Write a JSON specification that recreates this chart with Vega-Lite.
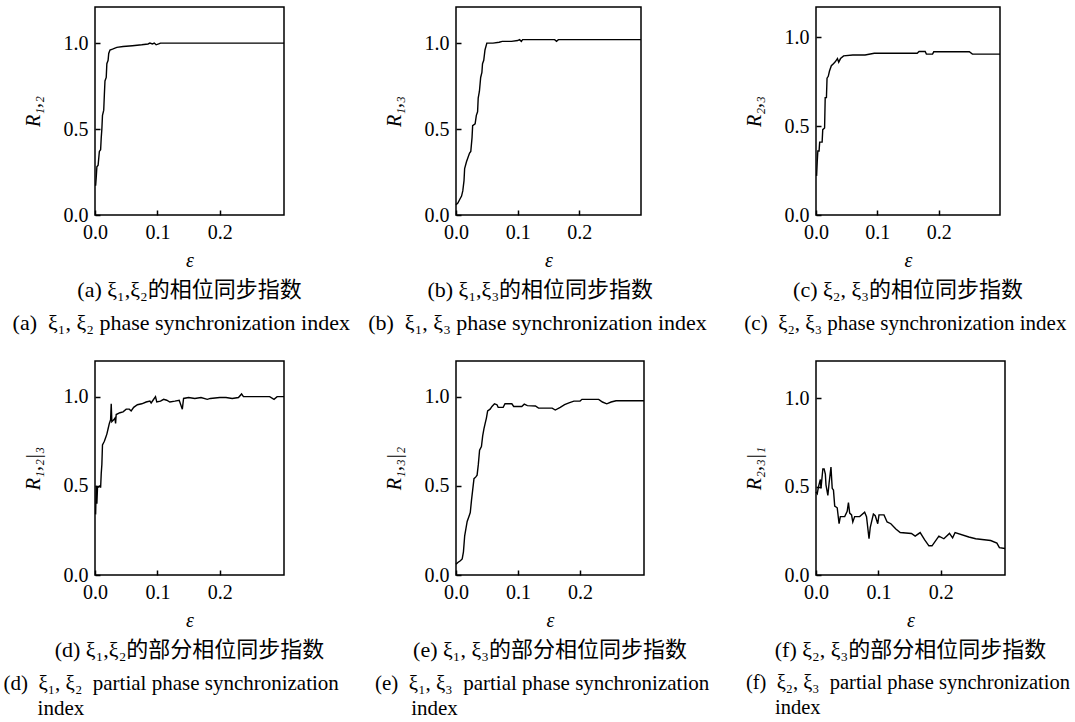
{
  "$schema": "https://vega.github.io/schema/vega-lite/v6.json",
  "background": "white",
  "padding": {"left": 2, "top": 6, "right": 0, "bottom": 5},
  "config": {
    "font": "Liberation Serif, Noto Sans CJK SC, serif",
    "view": {"stroke": "black", "strokeWidth": 1.5},
    "axis": {
      "domain": false, "grid": false, "ticks": true, "tickSize": -5, "tickColor": "black", "tickWidth": 1.5,
      "labelColor": "black", "labelFontSize": 20, "labelPadding": 12, "labelFlush": false, "labelOverlap": false,
      "titleColor": "black", "titleFontSize": 20, "titleFontStyle": "italic", "titleFontWeight": "normal"
    },
    "axisX": {"titlePadding": 8},
    "axisY": {"titlePadding": 20},
    "title": {
      "orient": "bottom", "anchor": "middle", "fontSize": 22, "fontWeight": "normal", "color": "black",
      "subtitleFontSize": 22, "subtitleColor": "black", "subtitlePadding": 11, "subtitleLineHeight": 25, "offset": 10
    },
    "line": {"color": "black", "strokeWidth": 1.4}
  },
  "datasets": {
    "curves": [
      {"p": "a", "e": 0.001, "r": 0.17}, {"p": "a", "e": 0.002, "r": 0.22}, {"p": "a", "e": 0.003, "r": 0.28},
      {"p": "a", "e": 0.005, "r": 0.29}, {"p": "a", "e": 0.006, "r": 0.33}, {"p": "a", "e": 0.007, "r": 0.37},
      {"p": "a", "e": 0.009, "r": 0.38}, {"p": "a", "e": 0.010, "r": 0.45}, {"p": "a", "e": 0.011, "r": 0.50},
      {"p": "a", "e": 0.012, "r": 0.58}, {"p": "a", "e": 0.014, "r": 0.61}, {"p": "a", "e": 0.015, "r": 0.70},
      {"p": "a", "e": 0.016, "r": 0.78}, {"p": "a", "e": 0.018, "r": 0.80}, {"p": "a", "e": 0.019, "r": 0.88},
      {"p": "a", "e": 0.021, "r": 0.90}, {"p": "a", "e": 0.022, "r": 0.94}, {"p": "a", "e": 0.024, "r": 0.96},
      {"p": "a", "e": 0.028, "r": 0.965}, {"p": "a", "e": 0.035, "r": 0.975}, {"p": "a", "e": 0.045, "r": 0.98},
      {"p": "a", "e": 0.060, "r": 0.985}, {"p": "a", "e": 0.075, "r": 0.99}, {"p": "a", "e": 0.085, "r": 0.995},
      {"p": "a", "e": 0.088, "r": 1.0}, {"p": "a", "e": 0.092, "r": 0.995}, {"p": "a", "e": 0.095, "r": 1.0},
      {"p": "a", "e": 0.098, "r": 0.99}, {"p": "a", "e": 0.102, "r": 0.995}, {"p": "a", "e": 0.105, "r": 1.0},
      {"p": "a", "e": 0.150, "r": 1.0}, {"p": "a", "e": 0.303, "r": 1.0},

      {"p": "b", "e": 0.000, "r": 0.06}, {"p": "b", "e": 0.003, "r": 0.07}, {"p": "b", "e": 0.006, "r": 0.09},
      {"p": "b", "e": 0.009, "r": 0.11}, {"p": "b", "e": 0.011, "r": 0.14}, {"p": "b", "e": 0.013, "r": 0.20},
      {"p": "b", "e": 0.014, "r": 0.27}, {"p": "b", "e": 0.017, "r": 0.31}, {"p": "b", "e": 0.019, "r": 0.33},
      {"p": "b", "e": 0.022, "r": 0.36}, {"p": "b", "e": 0.024, "r": 0.37}, {"p": "b", "e": 0.026, "r": 0.45},
      {"p": "b", "e": 0.027, "r": 0.52}, {"p": "b", "e": 0.031, "r": 0.53}, {"p": "b", "e": 0.033, "r": 0.58},
      {"p": "b", "e": 0.035, "r": 0.60}, {"p": "b", "e": 0.036, "r": 0.68}, {"p": "b", "e": 0.038, "r": 0.72},
      {"p": "b", "e": 0.040, "r": 0.80}, {"p": "b", "e": 0.042, "r": 0.83}, {"p": "b", "e": 0.043, "r": 0.88},
      {"p": "b", "e": 0.045, "r": 0.90}, {"p": "b", "e": 0.047, "r": 0.96}, {"p": "b", "e": 0.050, "r": 1.0},
      {"p": "b", "e": 0.060, "r": 1.0}, {"p": "b", "e": 0.070, "r": 1.005}, {"p": "b", "e": 0.075, "r": 1.01},
      {"p": "b", "e": 0.090, "r": 1.01}, {"p": "b", "e": 0.100, "r": 1.015}, {"p": "b", "e": 0.103, "r": 1.02},
      {"p": "b", "e": 0.106, "r": 1.01}, {"p": "b", "e": 0.108, "r": 1.02}, {"p": "b", "e": 0.130, "r": 1.02},
      {"p": "b", "e": 0.160, "r": 1.02}, {"p": "b", "e": 0.163, "r": 1.01}, {"p": "b", "e": 0.166, "r": 1.02},
      {"p": "b", "e": 0.200, "r": 1.02}, {"p": "b", "e": 0.300, "r": 1.02},

      {"p": "c", "e": 0.001, "r": 0.22}, {"p": "c", "e": 0.002, "r": 0.30}, {"p": "c", "e": 0.003, "r": 0.36},
      {"p": "c", "e": 0.005, "r": 0.36}, {"p": "c", "e": 0.006, "r": 0.41}, {"p": "c", "e": 0.010, "r": 0.41},
      {"p": "c", "e": 0.011, "r": 0.48}, {"p": "c", "e": 0.014, "r": 0.49}, {"p": "c", "e": 0.015, "r": 0.66},
      {"p": "c", "e": 0.017, "r": 0.66}, {"p": "c", "e": 0.018, "r": 0.77}, {"p": "c", "e": 0.020, "r": 0.78},
      {"p": "c", "e": 0.022, "r": 0.81}, {"p": "c", "e": 0.025, "r": 0.84}, {"p": "c", "e": 0.028, "r": 0.85},
      {"p": "c", "e": 0.031, "r": 0.86}, {"p": "c", "e": 0.033, "r": 0.87}, {"p": "c", "e": 0.035, "r": 0.88},
      {"p": "c", "e": 0.037, "r": 0.86}, {"p": "c", "e": 0.040, "r": 0.88}, {"p": "c", "e": 0.045, "r": 0.895},
      {"p": "c", "e": 0.060, "r": 0.90}, {"p": "c", "e": 0.080, "r": 0.90}, {"p": "c", "e": 0.095, "r": 0.91},
      {"p": "c", "e": 0.150, "r": 0.91}, {"p": "c", "e": 0.165, "r": 0.91}, {"p": "c", "e": 0.168, "r": 0.92},
      {"p": "c", "e": 0.178, "r": 0.92}, {"p": "c", "e": 0.180, "r": 0.905}, {"p": "c", "e": 0.190, "r": 0.905},
      {"p": "c", "e": 0.192, "r": 0.918}, {"p": "c", "e": 0.250, "r": 0.918}, {"p": "c", "e": 0.255, "r": 0.905},
      {"p": "c", "e": 0.300, "r": 0.905},

      {"p": "d", "e": 0.001, "r": 0.34}, {"p": "d", "e": 0.002, "r": 0.50}, {"p": "d", "e": 0.003, "r": 0.40},
      {"p": "d", "e": 0.004, "r": 0.49}, {"p": "d", "e": 0.008, "r": 0.50}, {"p": "d", "e": 0.009, "r": 0.49},
      {"p": "d", "e": 0.010, "r": 0.57}, {"p": "d", "e": 0.011, "r": 0.62}, {"p": "d", "e": 0.012, "r": 0.73},
      {"p": "d", "e": 0.015, "r": 0.75}, {"p": "d", "e": 0.017, "r": 0.77}, {"p": "d", "e": 0.019, "r": 0.79},
      {"p": "d", "e": 0.021, "r": 0.82}, {"p": "d", "e": 0.023, "r": 0.85}, {"p": "d", "e": 0.025, "r": 0.87},
      {"p": "d", "e": 0.026, "r": 0.96}, {"p": "d", "e": 0.027, "r": 0.86}, {"p": "d", "e": 0.030, "r": 0.87},
      {"p": "d", "e": 0.032, "r": 0.88}, {"p": "d", "e": 0.033, "r": 0.85}, {"p": "d", "e": 0.034, "r": 0.90},
      {"p": "d", "e": 0.040, "r": 0.91}, {"p": "d", "e": 0.045, "r": 0.915}, {"p": "d", "e": 0.050, "r": 0.93},
      {"p": "d", "e": 0.055, "r": 0.93}, {"p": "d", "e": 0.058, "r": 0.92}, {"p": "d", "e": 0.062, "r": 0.94},
      {"p": "d", "e": 0.068, "r": 0.955}, {"p": "d", "e": 0.075, "r": 0.96}, {"p": "d", "e": 0.082, "r": 0.97},
      {"p": "d", "e": 0.088, "r": 0.975}, {"p": "d", "e": 0.090, "r": 0.965}, {"p": "d", "e": 0.093, "r": 0.98},
      {"p": "d", "e": 0.097, "r": 1.00}, {"p": "d", "e": 0.099, "r": 0.97}, {"p": "d", "e": 0.105, "r": 0.975},
      {"p": "d", "e": 0.110, "r": 0.985}, {"p": "d", "e": 0.115, "r": 0.98}, {"p": "d", "e": 0.120, "r": 0.97},
      {"p": "d", "e": 0.128, "r": 0.975}, {"p": "d", "e": 0.135, "r": 0.98}, {"p": "d", "e": 0.140, "r": 0.93},
      {"p": "d", "e": 0.142, "r": 0.99}, {"p": "d", "e": 0.150, "r": 0.995}, {"p": "d", "e": 0.160, "r": 0.99},
      {"p": "d", "e": 0.170, "r": 0.995}, {"p": "d", "e": 0.180, "r": 0.985}, {"p": "d", "e": 0.185, "r": 0.99},
      {"p": "d", "e": 0.200, "r": 0.995}, {"p": "d", "e": 0.210, "r": 0.995}, {"p": "d", "e": 0.220, "r": 0.99},
      {"p": "d", "e": 0.230, "r": 0.995}, {"p": "d", "e": 0.235, "r": 1.015}, {"p": "d", "e": 0.238, "r": 1.0},
      {"p": "d", "e": 0.260, "r": 1.0}, {"p": "d", "e": 0.280, "r": 1.0}, {"p": "d", "e": 0.287, "r": 0.985},
      {"p": "d", "e": 0.292, "r": 1.0}, {"p": "d", "e": 0.303, "r": 1.0},

      {"p": "e", "e": 0.000, "r": 0.06}, {"p": "e", "e": 0.003, "r": 0.07}, {"p": "e", "e": 0.007, "r": 0.08},
      {"p": "e", "e": 0.010, "r": 0.09}, {"p": "e", "e": 0.012, "r": 0.13}, {"p": "e", "e": 0.014, "r": 0.22},
      {"p": "e", "e": 0.016, "r": 0.26}, {"p": "e", "e": 0.018, "r": 0.30}, {"p": "e", "e": 0.021, "r": 0.33},
      {"p": "e", "e": 0.023, "r": 0.35}, {"p": "e", "e": 0.025, "r": 0.42}, {"p": "e", "e": 0.027, "r": 0.48},
      {"p": "e", "e": 0.029, "r": 0.54}, {"p": "e", "e": 0.032, "r": 0.55}, {"p": "e", "e": 0.034, "r": 0.56},
      {"p": "e", "e": 0.036, "r": 0.62}, {"p": "e", "e": 0.038, "r": 0.70}, {"p": "e", "e": 0.041, "r": 0.72},
      {"p": "e", "e": 0.043, "r": 0.78}, {"p": "e", "e": 0.045, "r": 0.82}, {"p": "e", "e": 0.047, "r": 0.85},
      {"p": "e", "e": 0.049, "r": 0.88}, {"p": "e", "e": 0.051, "r": 0.92}, {"p": "e", "e": 0.055, "r": 0.93},
      {"p": "e", "e": 0.058, "r": 0.945}, {"p": "e", "e": 0.062, "r": 0.96}, {"p": "e", "e": 0.066, "r": 0.955},
      {"p": "e", "e": 0.068, "r": 0.94}, {"p": "e", "e": 0.076, "r": 0.94}, {"p": "e", "e": 0.079, "r": 0.96},
      {"p": "e", "e": 0.090, "r": 0.96}, {"p": "e", "e": 0.093, "r": 0.945}, {"p": "e", "e": 0.106, "r": 0.945},
      {"p": "e", "e": 0.110, "r": 0.958}, {"p": "e", "e": 0.115, "r": 0.95}, {"p": "e", "e": 0.128, "r": 0.948},
      {"p": "e", "e": 0.133, "r": 0.936}, {"p": "e", "e": 0.155, "r": 0.936}, {"p": "e", "e": 0.160, "r": 0.925},
      {"p": "e", "e": 0.168, "r": 0.94}, {"p": "e", "e": 0.175, "r": 0.955}, {"p": "e", "e": 0.182, "r": 0.965},
      {"p": "e", "e": 0.190, "r": 0.975}, {"p": "e", "e": 0.200, "r": 0.975}, {"p": "e", "e": 0.203, "r": 0.985},
      {"p": "e", "e": 0.230, "r": 0.985}, {"p": "e", "e": 0.236, "r": 0.97}, {"p": "e", "e": 0.243, "r": 0.96},
      {"p": "e", "e": 0.250, "r": 0.97}, {"p": "e", "e": 0.258, "r": 0.977}, {"p": "e", "e": 0.303, "r": 0.977},

      {"p": "f", "e": 0.000, "r": 0.47}, {"p": "f", "e": 0.002, "r": 0.46}, {"p": "f", "e": 0.004, "r": 0.50},
      {"p": "f", "e": 0.007, "r": 0.54}, {"p": "f", "e": 0.008, "r": 0.49}, {"p": "f", "e": 0.011, "r": 0.60},
      {"p": "f", "e": 0.013, "r": 0.60}, {"p": "f", "e": 0.015, "r": 0.57}, {"p": "f", "e": 0.016, "r": 0.51},
      {"p": "f", "e": 0.019, "r": 0.45}, {"p": "f", "e": 0.021, "r": 0.52}, {"p": "f", "e": 0.024, "r": 0.61},
      {"p": "f", "e": 0.026, "r": 0.49}, {"p": "f", "e": 0.028, "r": 0.48}, {"p": "f", "e": 0.030, "r": 0.39},
      {"p": "f", "e": 0.034, "r": 0.38}, {"p": "f", "e": 0.037, "r": 0.29}, {"p": "f", "e": 0.039, "r": 0.33},
      {"p": "f", "e": 0.046, "r": 0.33}, {"p": "f", "e": 0.050, "r": 0.36}, {"p": "f", "e": 0.052, "r": 0.41},
      {"p": "f", "e": 0.054, "r": 0.35}, {"p": "f", "e": 0.057, "r": 0.34}, {"p": "f", "e": 0.059, "r": 0.30},
      {"p": "f", "e": 0.062, "r": 0.33}, {"p": "f", "e": 0.070, "r": 0.33}, {"p": "f", "e": 0.078, "r": 0.355},
      {"p": "f", "e": 0.081, "r": 0.33}, {"p": "f", "e": 0.085, "r": 0.205}, {"p": "f", "e": 0.087, "r": 0.27},
      {"p": "f", "e": 0.092, "r": 0.345}, {"p": "f", "e": 0.095, "r": 0.335}, {"p": "f", "e": 0.099, "r": 0.29},
      {"p": "f", "e": 0.101, "r": 0.34}, {"p": "f", "e": 0.109, "r": 0.34}, {"p": "f", "e": 0.114, "r": 0.30},
      {"p": "f", "e": 0.120, "r": 0.29}, {"p": "f", "e": 0.128, "r": 0.26}, {"p": "f", "e": 0.135, "r": 0.24},
      {"p": "f", "e": 0.153, "r": 0.235}, {"p": "f", "e": 0.159, "r": 0.22}, {"p": "f", "e": 0.167, "r": 0.24},
      {"p": "f", "e": 0.174, "r": 0.20}, {"p": "f", "e": 0.181, "r": 0.165}, {"p": "f", "e": 0.186, "r": 0.165},
      {"p": "f", "e": 0.197, "r": 0.22}, {"p": "f", "e": 0.205, "r": 0.205}, {"p": "f", "e": 0.214, "r": 0.235},
      {"p": "f", "e": 0.219, "r": 0.21}, {"p": "f", "e": 0.223, "r": 0.24}, {"p": "f", "e": 0.245, "r": 0.215},
      {"p": "f", "e": 0.256, "r": 0.205}, {"p": "f", "e": 0.280, "r": 0.195}, {"p": "f", "e": 0.290, "r": 0.18},
      {"p": "f", "e": 0.294, "r": 0.155}, {"p": "f", "e": 0.303, "r": 0.15}
    ]
  },
  "columns": 3,
  "spacing": {"row": 146, "column": 172},
  "bounds": "flush",
  "concat": [
    {
      "width": 189, "height": 208,
      "data": {"name": "curves"},
      "transform": [{"filter": "datum.p === 'a'"}],
      "title": {"text": "(a) ξ₁,ξ₂的相位同步指数", "subtitle": "(a)\u00a0 ξ₁, ξ₂ phase synchronization index\u00a0\u00a0\u00a0\u200b"},
      "mark": {"type": "line"},
      "encoding": {
        "x": {"field": "e", "type": "quantitative", "scale": {"domain": [0, 0.303], "nice": false}, "axis": {"title": "ε", "values": [0, 0.1, 0.2], "format": ".1f"}},
        "y": {"field": "r", "type": "quantitative", "scale": {"domain": [0, 1.21], "nice": false}, "axis": {"title": "R₁,₂", "values": [0, 0.5, 1.0], "format": ".1f"}}
      }
    },
    {
      "width": 185, "height": 208,
      "data": {"name": "curves"},
      "transform": [{"filter": "datum.p === 'b'"}],
      "title": {"text": "(b) ξ₁,ξ₃的相位同步指数\u00a0\u00a0\u00a0\u200b", "subtitle": "(b)\u00a0 ξ₁, ξ₃ phase synchronization index\u00a0\u00a0\u00a0\u00a0\u200b"},
      "mark": {"type": "line"},
      "encoding": {
        "x": {"field": "e", "type": "quantitative", "scale": {"domain": [0, 0.3], "nice": false}, "axis": {"title": "ε", "values": [0, 0.1, 0.2], "format": ".1f"}},
        "y": {"field": "r", "type": "quantitative", "scale": {"domain": [0, 1.21], "nice": false}, "axis": {"title": "R₁,₃", "values": [0, 0.5, 1.0], "format": ".1f"}}
      }
    },
    {
      "width": 184, "height": 208,
      "data": {"name": "curves"},
      "transform": [{"filter": "datum.p === 'c'"}],
      "title": {"text": "(c) ξ₂, ξ₃的相位同步指数", "subtitleFontSize": 21, "subtitle": "(c)\u00a0 ξ₂, ξ₃ phase synchronization index\u00a0\u200b"},
      "mark": {"type": "line"},
      "encoding": {
        "x": {"field": "e", "type": "quantitative", "scale": {"domain": [0, 0.3], "nice": false}, "axis": {"title": "ε", "values": [0, 0.1, 0.2], "format": ".1f"}},
        "y": {"field": "r", "type": "quantitative", "scale": {"domain": [0, 1.17], "nice": false}, "axis": {"title": "R₂,₃", "values": [0, 0.5, 1.0], "format": ".1f"}}
      }
    },
    {
      "width": 189, "height": 214,
      "data": {"name": "curves"},
      "transform": [{"filter": "datum.p === 'd'"}],
      "title": {"text": "(d) ξ₁,ξ₂的部分相位同步指数", "subtitleFontSize": 21, "subtitle": ["(d)\u00a0 ξ₁, ξ₂\u00a0 partial phase synchronization\u00a0\u00a0\u00a0\u00a0\u00a0\u00a0\u00a0\u200b", "index\u00a0\u00a0\u00a0\u00a0\u00a0\u00a0\u00a0\u00a0\u00a0\u00a0\u00a0\u00a0\u00a0\u00a0\u00a0\u00a0\u00a0\u00a0\u00a0\u00a0\u00a0\u00a0\u00a0\u00a0\u00a0\u00a0\u00a0\u00a0\u00a0\u00a0\u00a0\u00a0\u00a0\u00a0\u00a0\u00a0\u00a0\u00a0\u00a0\u00a0\u00a0\u00a0\u00a0\u00a0\u00a0\u00a0\u00a0\u00a0\u00a0\u200b"]},
      "mark": {"type": "line"},
      "encoding": {
        "x": {"field": "e", "type": "quantitative", "scale": {"domain": [0, 0.303], "nice": false}, "axis": {"title": "ε", "values": [0, 0.1, 0.2], "format": ".1f"}},
        "y": {"field": "r", "type": "quantitative", "scale": {"domain": [0, 1.2], "nice": false}, "axis": {"title": "R₁,₂|₃", "values": [0, 0.5, 1.0], "format": ".1f"}}
      }
    },
    {
      "width": 188, "height": 214,
      "data": {"name": "curves"},
      "transform": [{"filter": "datum.p === 'e'"}],
      "title": {"text": "(e) ξ₁, ξ₃的部分相位同步指数", "subtitleFontSize": 21, "subtitle": ["(e)\u00a0 ξ₁, ξ₃\u00a0 partial phase synchronization\u00a0\u00a0\u00a0\u200b", "index\u00a0\u00a0\u00a0\u00a0\u00a0\u00a0\u00a0\u00a0\u00a0\u00a0\u00a0\u00a0\u00a0\u00a0\u00a0\u00a0\u00a0\u00a0\u00a0\u00a0\u00a0\u00a0\u00a0\u00a0\u00a0\u00a0\u00a0\u00a0\u00a0\u00a0\u00a0\u00a0\u00a0\u00a0\u00a0\u00a0\u00a0\u00a0\u00a0\u00a0\u00a0\u00a0\u00a0\u00a0\u200b"]},
      "mark": {"type": "line"},
      "encoding": {
        "x": {"field": "e", "type": "quantitative", "scale": {"domain": [0, 0.303], "nice": false}, "axis": {"title": "ε", "values": [0, 0.1, 0.2], "format": ".1f"}},
        "y": {"field": "r", "type": "quantitative", "scale": {"domain": [0, 1.2], "nice": false}, "axis": {"title": "R₁,₃|₂", "values": [0, 0.5, 1.0], "format": ".1f"}}
      }
    },
    {
      "width": 189, "height": 214,
      "data": {"name": "curves"},
      "transform": [{"filter": "datum.p === 'f'"}],
      "title": {"text": "(f) ξ₂, ξ₃的部分相位同步指数", "subtitleFontSize": 20.5, "subtitle": ["(f)\u00a0 ξ₂, ξ₃\u00a0 partial phase synchronization\u00a0\u200b", "index\u00a0\u00a0\u00a0\u00a0\u00a0\u00a0\u00a0\u00a0\u00a0\u00a0\u00a0\u00a0\u00a0\u00a0\u00a0\u00a0\u00a0\u00a0\u00a0\u00a0\u00a0\u00a0\u00a0\u00a0\u00a0\u00a0\u00a0\u00a0\u00a0\u00a0\u00a0\u00a0\u00a0\u00a0\u00a0\u00a0\u00a0\u00a0\u00a0\u00a0\u00a0\u00a0\u00a0\u00a0\u200b"]},
      "mark": {"type": "line"},
      "encoding": {
        "x": {"field": "e", "type": "quantitative", "scale": {"domain": [0, 0.303], "nice": false}, "axis": {"title": "ε", "values": [0, 0.1, 0.2], "format": ".1f"}},
        "y": {"field": "r", "type": "quantitative", "scale": {"domain": [0, 1.21], "nice": false}, "axis": {"title": "R₂,₃|₁", "values": [0, 0.5, 1.0], "format": ".1f"}}
      }
    }
  ]
}
